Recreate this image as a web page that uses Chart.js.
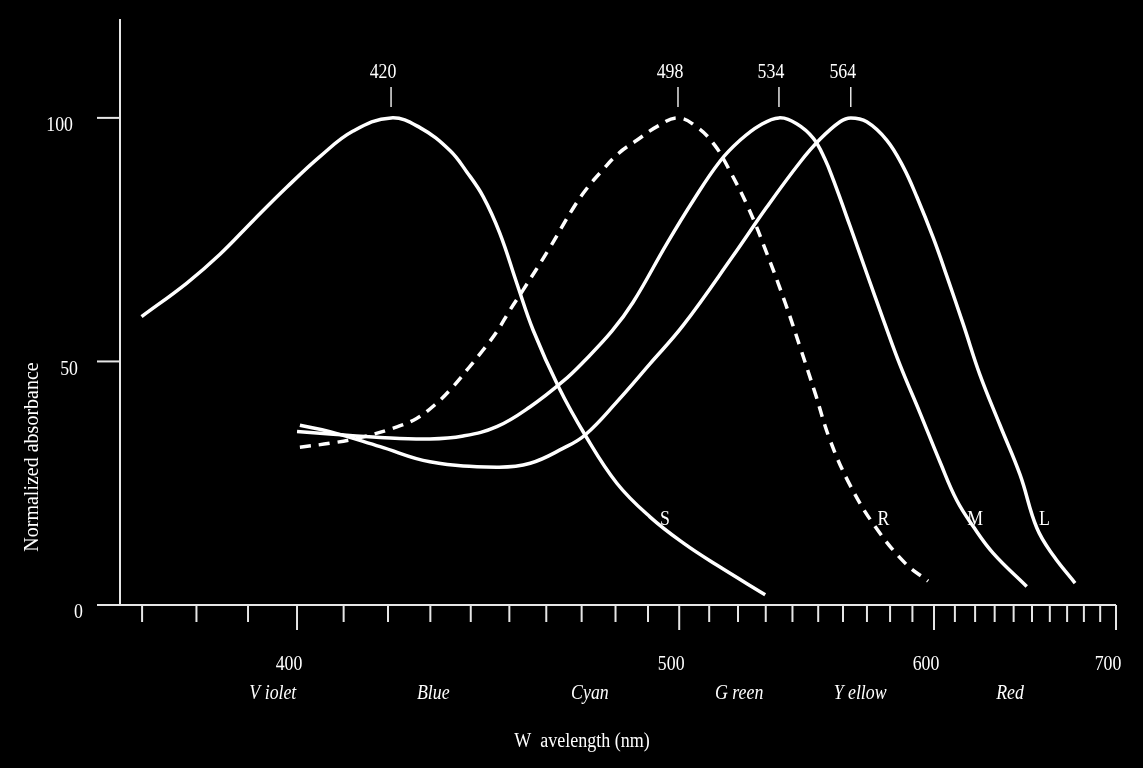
<!DOCTYPE html>
<html>
<head>
<meta charset="utf-8">
<script src="https://cdn.jsdelivr.net/npm/chart.js@4.4.0/dist/chart.umd.min.js"></script>
<style>
  html, body { margin: 0; padding: 0; background: #000; }
</style>
</head>
<body>
<canvas id="myChart" width="1143" height="768"></canvas>
<script>
// Wavelength (nm) / normalized absorbance
const sWave = [369.9, 378.2, 384.5, 391.1, 397.9, 404.9, 412.1, 420.7, 427.5, 434.8, 439.0, 443.2, 447.5, 452.0, 456.4, 463.4, 471.0, 480.4, 490.6, 501.4, 512.6, 529.8];
const sAbs = [59.2, 66.1, 72.0, 79.0, 85.8, 92.1, 97.3, 100, 98.0, 93.3, 88.9, 83.8, 76.3, 66.0, 56.4, 44.8, 34.9, 25.0, 18.1, 12.7, 8.2, 2.1];

const rWave = [400.6, 407.0, 412.9, 421.2, 426.7, 431.1, 435.2, 439.4, 443.2, 446.7, 450.2, 453.7, 460.6, 467.6, 471.5, 475.9, 480.9, 486.5, 492.8, 499.6, 506.3, 512.0, 516.6, 523.7, 530.4, 537.2, 542.9, 548.8, 554.7, 562.9, 573.5, 586.7, 597.2];
const rAbs = [32.4, 33.2, 34.2, 36.3, 38.3, 41.1, 44.5, 48.6, 52.4, 56.1, 60.6, 64.7, 72.9, 81.5, 85.5, 89.1, 92.7, 95.4, 98.2, 100, 97.9, 94.3, 89.7, 81.5, 72.2, 62.1, 53.0, 43.5, 33.9, 24.6, 16.1, 8.6, 4.9];

const mWave = [400.0, 407.0, 418.2, 429.9, 438.1, 446.7, 455.6, 464.8, 470.5, 478.9, 485.4, 496.0, 504.7, 513.7, 520.7, 527.9, 534.9, 541.6, 548.1, 552.7, 556.1, 562.9, 569.9, 577.1, 584.4, 593.5, 602.9, 610.9, 619.1, 629.3, 647.1];
const mAbs = [35.6, 35.1, 34.4, 34.1, 34.7, 36.6, 40.7, 46.0, 49.9, 56.2, 62.2, 74.2, 83.1, 91.1, 95.4, 98.5, 100, 98.8, 95.8, 91.5, 87.2, 77.8, 68.1, 58.5, 49.3, 39.4, 29.3, 21.5, 16.1, 10.6, 3.8];

const lWave = [400.6, 407.0, 418.2, 429.9, 446.7, 455.6, 464.8, 471.0, 480.4, 490.6, 501.4, 518.4, 530.4, 542.9, 550.7, 558.8, 563.2, 569.9, 578.6, 585.9, 592.0, 599.7, 606.1, 614.2, 622.5, 632.8, 643.5, 652.7, 662.1, 674.7];
const lAbs = [36.9, 35.6, 32.5, 29.4, 28.3, 29.1, 32.2, 34.9, 41.7, 49.5, 57.5, 71.8, 81.7, 90.9, 95.6, 99.2, 100, 99.2, 95.4, 89.9, 83.8, 75.3, 67.5, 57.5, 47.2, 36.9, 26.7, 15.8, 10.1, 4.5];

// peak markers: where they sit, what they say
const peakWaves = [420.7, 499.6, 534.9, 563.2];
const peakLabels = ["420", "498", "534", "564"];

const xMajorTicks = [400, 500, 600, 700];
const yTicks = [0, 50, 100];

const curveNames = ["S", "R", "M", "L"];
const curveNameWaves = [495.4, 577.1, 620.0, 656.9];
const curveNameAbs = 17.5;

const colourNames = ["V iolet", "Blue", "Cyan", "G reen", "Y ellow", "Red"];
const colourWaves = [395.0, 430.7, 472.4, 520.4, 567.1, 638.1];

// axis runs on wavenumber (1/lambda), so convert nm -> cm^-1
const wn = (w) => 1e7 / w;
const toPoints = (waves, abs) => waves.map((w, i) => ({ x: wn(w), y: abs[i] }));

const minorTicks = [];
for (let w = 370; w <= 700; w += 10) minorTicks.push(w);

const SERIF = "'Liberation Serif', 'Times New Roman', serif";

function drawText(ctx, str, x, y, font, align, sx, rot) {
  ctx.save();
  ctx.translate(x, y);
  if (rot) ctx.rotate(rot);
  ctx.scale(sx || 1, 1);
  ctx.font = font;
  ctx.textAlign = align || "center";
  ctx.textBaseline = "middle";
  ctx.fillStyle = "#fff";
  ctx.fillText(str, 0, 0);
  ctx.restore();
}

const framePlugin = {
  id: "frame",
  beforeDraw(chart) {
    const ctx = chart.ctx;
    ctx.save();
    ctx.fillStyle = "#000";
    ctx.fillRect(0, 0, chart.width, chart.height);
    ctx.restore();
  },
  afterDraw(chart) {
    const ctx = chart.ctx;
    const xs = chart.scales.x;
    const ys = chart.scales.y;
    const a = chart.chartArea;
    const tickFont = "20px " + SERIF;

    ctx.save();
    ctx.strokeStyle = "#e6e6e6";
    ctx.lineWidth = 2;

    // axis lines
    ctx.beginPath();
    ctx.moveTo(a.left, a.top);
    ctx.lineTo(a.left, a.bottom);
    ctx.lineTo(a.right, a.bottom);
    ctx.stroke();

    // y ticks
    yTicks.forEach((v) => {
      const py = ys.getPixelForValue(v);
      ctx.beginPath();
      ctx.moveTo(a.left - 23, py);
      ctx.lineTo(a.left, py);
      ctx.stroke();
      const s = String(v);
      drawText(ctx, s, 83 - 5 * (s.length - 1), py + 8, tickFont, "right", 0.89);
    });

    // x ticks, every 10 nm, longer at the hundreds
    minorTicks.forEach((w) => {
      const px = xs.getPixelForValue(wn(w));
      const major = xMajorTicks.includes(w);
      ctx.beginPath();
      ctx.moveTo(px, a.bottom);
      ctx.lineTo(px, a.bottom + (major ? 25 : 17));
      ctx.stroke();
    });
    xMajorTicks.forEach((w) => {
      const px = xs.getPixelForValue(wn(w));
      drawText(ctx, String(w), px - 8, a.bottom + 60, tickFont, "center", 0.89);
    });

    // peak markers above the curves
    ctx.lineWidth = 1.5;
    peakWaves.forEach((w, i) => {
      const px = xs.getPixelForValue(wn(w));
      ctx.beginPath();
      ctx.moveTo(px, 87);
      ctx.lineTo(px, 107);
      ctx.stroke();
      drawText(ctx, peakLabels[i], px - 8, 73, tickFont, "center", 0.89);
    });

    // curve names
    curveNames.forEach((n, i) => {
      const px = xs.getPixelForValue(wn(curveNameWaves[i]));
      const py = ys.getPixelForValue(curveNameAbs);
      drawText(ctx, n, px, py, tickFont, "center", 0.89);
    });

    // colour names under the axis
    colourNames.forEach((n, i) => {
      const px = xs.getPixelForValue(wn(colourWaves[i]));
      drawText(ctx, n, px, a.bottom + 89, "italic 20px " + SERIF, "center", 0.89);
    });

    // axis titles
    drawText(ctx, "W  avelength (nm)", 582, a.bottom + 137, "20px " + SERIF, "center", 0.9);
    drawText(ctx, "Normalized absorbance", 33, 457, "20px " + SERIF, "center", 1, -Math.PI / 2);
    ctx.restore();
  }
};

const lineStyle = {
  borderColor: "#ffffff",
  borderWidth: 3.5,
  pointRadius: 0,
  fill: false,
  tension: 0.4,
  borderCapStyle: "butt"
};

new Chart(document.getElementById("myChart"), {
  type: "line",
  data: {
    datasets: [
      { label: "S", data: toPoints(sWave, sAbs), ...lineStyle },
      { label: "R", data: toPoints(rWave, rAbs), ...lineStyle, borderDash: [11, 8] },
      { label: "M", data: toPoints(mWave, mAbs), ...lineStyle },
      { label: "L", data: toPoints(lWave, lAbs), ...lineStyle }
    ]
  },
  options: {
    responsive: false,
    animation: false,
    devicePixelRatio: 1,
    layout: { padding: { left: 120, right: 27, top: 19, bottom: 163 } },
    plugins: { legend: { display: false }, tooltip: { enabled: false } },
    scales: {
      x: { type: "linear", reverse: true, min: wn(700), max: 27316, display: false },
      y: { min: 0, max: 120.3, display: false }
    }
  },
  plugins: [framePlugin]
});
</script>
</body>
</html>
